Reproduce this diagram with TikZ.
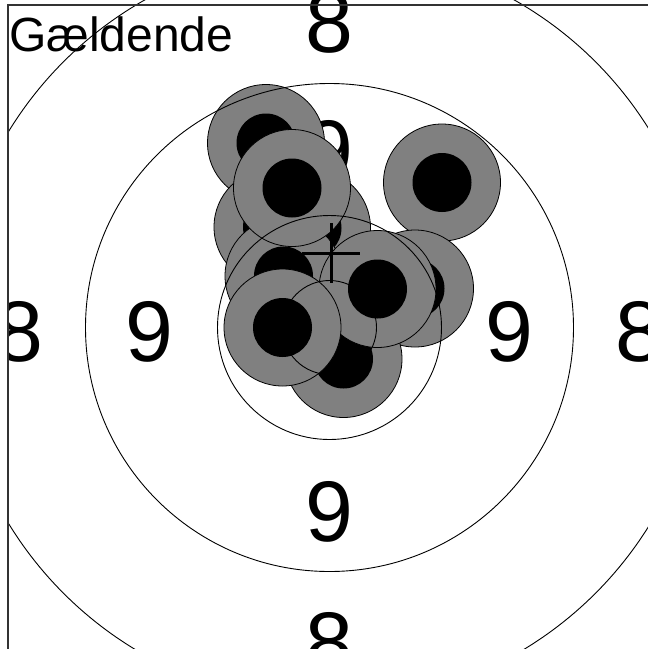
\documentclass[tikz,border=0pt]{standalone}
\usepackage{fontspec}
\setmainfont{Liberation Sans}
\usetikzlibrary{positioning}

\begin{document}
\begin{tikzpicture}[
  x=1pt, y=-1pt,
  ring/.style={draw=black, line width=0.9pt},
  shotout/.style={circle, draw=black, line width=0.8pt, fill=gray, minimum size=117pt, inner sep=0pt},
  shotin/.style={circle, fill=black, minimum size=59pt, inner sep=0pt},
  ringnum/.style={font=\fontsize{86}{86}\selectfont, inner sep=0pt, text height=62pt, text depth=0pt},
  aimcross/.style={draw=black, line width=3pt},
  frameline/.style={draw=black!80, line width=2pt}
]
\useasboundingbox (0,0) rectangle (648,649);

\begin{scope}
\clip (7.5,-20) rectangle (700,700);
\coordinate (ctr) at (329.5,327.5);

% ring numbers
\node[ringnum] (n9l) at (149.5,330) {9};
\node[ringnum] (n9r) at (509.5,330) {9};
\node[ringnum] (n9t) at (329.5,149) {9};
\node[ringnum] (n9b) at (329.5,510) {9};
\node[ringnum] (n8l) at (19.5,330) {8};
\node[ringnum] (n8r) at (639.5,330) {8};
\node[ringnum] (n8t) at (329.5,21) {8};
\node[ringnum] (n8b) at (329.5,641) {8};

% shots
\node[shotout] (sa) at (266,143) {};
\node[shotin] (ca) at (266,143) {};
\node[shotout] (sd) at (272.5,227) {};
\node[shotin] (cd) at (272.5,227) {};
\node[shotout] (se) at (312,228) {};
\node[shotin] (ce) at (312,228) {};
\node[shotout] (sf) at (283.5,276) {};
\node[shotin] (cf) at (283.5,276) {};
\node[shotout] (sb) at (292,188) {};
\node[shotin] (cb) at (292,188) {};
\node[shotout] (sc) at (442,182.5) {};
\node[shotin] (cc) at (442,182.5) {};
\node[shotout] (si) at (415,288.5) {};
\node[shotin] (ci) at (415,288.5) {};
\node[shotout] (sj) at (343.5,359) {};
\node[shotin] (cj) at (343.5,359) {};
\node[shotout] (sh) at (377.5,289) {};
\node[shotin] (ch) at (377.5,289) {};
\node[shotout] (sg) at (282.5,327.5) {};
\node[shotin] (cg) at (282.5,327.5) {};

% rings
\draw[ring] (ctr) circle (47pt);
\draw[ring] (ctr) circle (112pt);
\draw[ring] (ctr) circle (244pt);
\draw[ring] (ctr) circle (376pt);

% mean point
\coordinate (mpi) at (331,253);
\draw[aimcross] (mpi) ++(-29,0) -- ++(58,0);
\draw[aimcross] (mpi) ++(0,-30) -- ++(0,60);
\end{scope}

\node[anchor=base west, inner sep=0pt, font=\fontsize{48}{48}\selectfont] (title) at (9,51) {Gældende};

\draw[frameline] (7.5,649) -- (7.5,5) -- (648,5);
\end{tikzpicture}
\end{document}
